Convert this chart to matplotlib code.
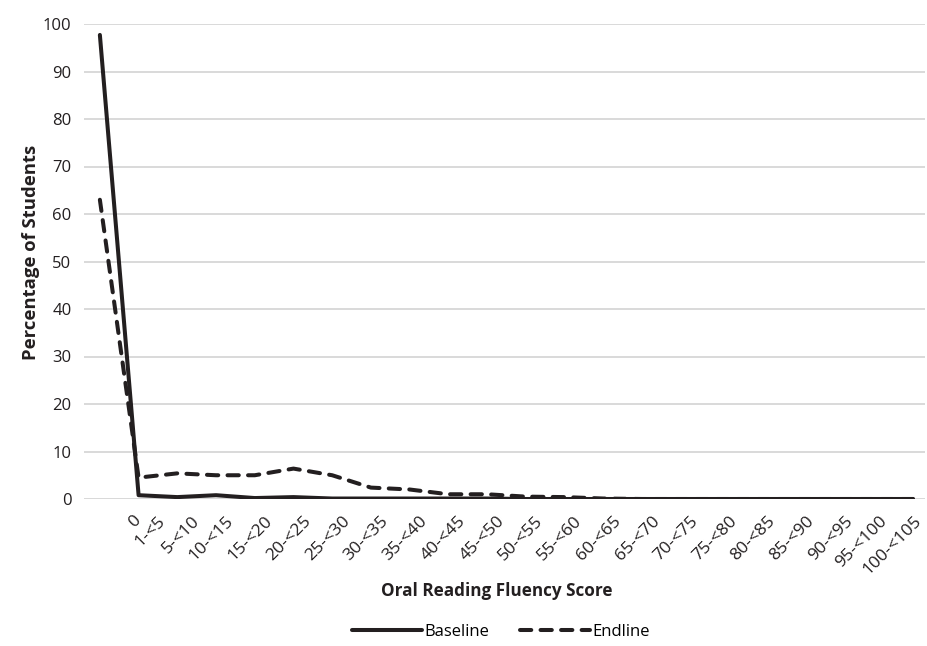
import matplotlib
matplotlib.use("Agg")
import matplotlib.pyplot as plt
import matplotlib.transforms as mtransforms
import numpy as np

plt.rcParams['font.family'] = ['Open Sans', 'DejaVu Sans']

# ---------------------------------------------------------------
# Data
categories = ["0", "1-<5", "5-<10", "10-<15", "15-<20", "20-<25", "25-<30",
              "30-<35", "35-<40", "40-<45", "45-<50", "50-<55", "55-<60",
              "60-<65", "65-<70", "70-<75", "75-<80", "80-<85", "85-<90",
              "90-<95", "95-<100", "100-<105"]
baseline = [97.7, 0.8, 0.4, 0.8, 0.2, 0.4, 0.1, 0.1, 0.1, 0.1, 0.1, 0.0,
            0.0, 0.0, 0.0, 0.0, 0.0, 0.0, 0.0, 0.0, 0.0, 0.0]
endline = [63.0, 4.5, 5.4, 5.0, 5.0, 6.4, 5.0, 2.4, 2.0, 1.0, 1.0, 0.5,
           0.4, 0.1, 0.0, 0.0, 0.0, 0.0, 0.0, 0.0, 0.0, 0.0]
yticks = list(range(0, 101, 10))

# ---------------------------------------------------------------
fig = plt.figure(figsize=(9.27, 6.46), dpi=100)
ax = fig.add_axes([84 / 927, 1 - 499 / 646, 841 / 927, 475 / 646])

ink = "#231f20"
x = np.arange(len(categories))
ax.plot(x, baseline, color=ink, lw=2.9, solid_capstyle="round",
        solid_joinstyle="round", label="Baseline")
ax.plot(x, endline, color=ink, lw=2.9, ls=(0, (2.8, 2.3)), dash_capstyle="round",
        dash_joinstyle="round", label="Endline")

ax.set_xlim(-0.41, 21.31)
ax.set_ylim(0, 100)
ax.set_yticks(yticks)
ax.yaxis.grid(True, color="#d9d9d9", lw=1.4)
ax.set_axisbelow(True)
for s in ax.spines.values():
    s.set_visible(False)
ax.axhline(0, color="#d9d9d9", lw=1.4, zorder=0)

ax.set_xticks(x)
ax.set_xticklabels(categories, rotation=45, ha="right", va="top",
                   rotation_mode="anchor", fontsize=12.5)
ax.tick_params(axis="both", length=0, colors=ink)
ax.tick_params(axis="y", labelsize=12, pad=9)
ax.tick_params(axis="x", pad=10)

# excel-style shift of rotated labels (short labels sit further right)
for lbl in ax.get_xticklabels():
    dx_px = 37 - 4.6 * len(lbl.get_text())
    lbl.set_transform(lbl.get_transform() +
                      mtransforms.ScaledTranslation(dx_px / 100, 0, fig.dpi_scale_trans))

ax.set_xlabel("Oral Reading Fluency Score", fontsize=12.3, fontweight="bold", color=ink)
ax.xaxis.set_label_coords(0.491, -0.175)
ax.set_ylabel("Percentage of Students", fontsize=13.3, fontweight="bold", color=ink)
ax.yaxis.set_label_coords(-0.052, 0.52)

fig.legend(*ax.get_legend_handles_labels(), loc="center",
           bbox_to_anchor=(501 / 927, 14 / 646), ncol=2, frameon=False,
           fontsize=12, handlelength=4.2, columnspacing=1.8, handletextpad=0.15)

fig.savefig("out.png", dpi=100)
